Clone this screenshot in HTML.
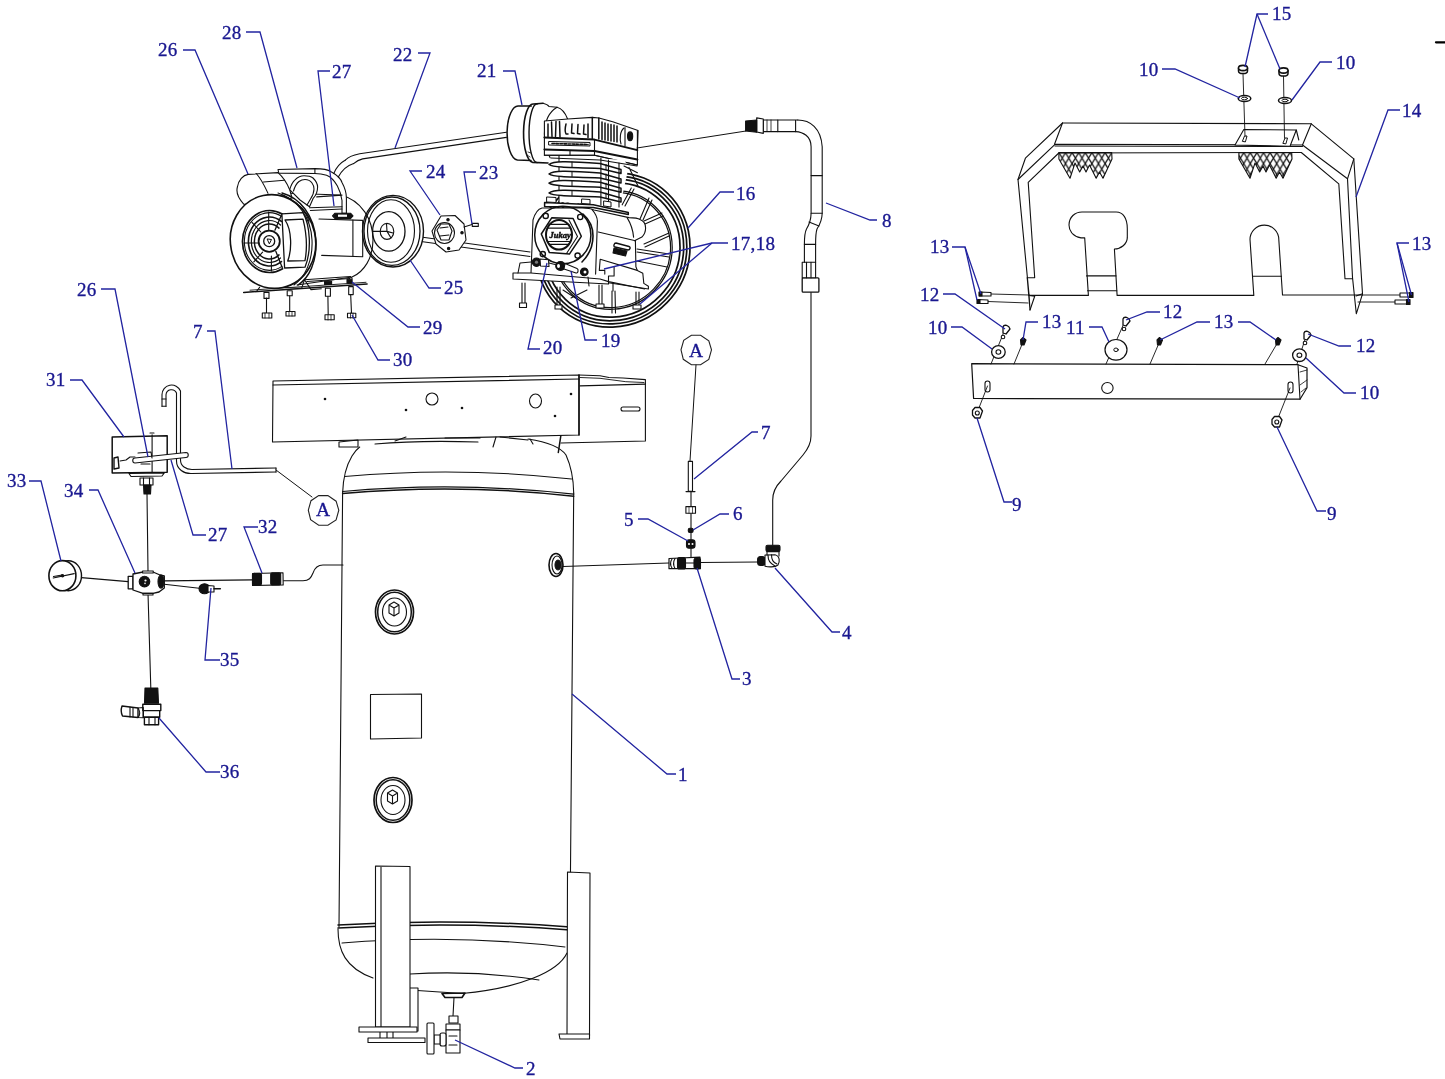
<!DOCTYPE html>
<html><head><meta charset="utf-8"><style>
html,body{margin:0;padding:0;background:#fff;width:1445px;height:1079px;overflow:hidden}
svg{display:block;will-change:transform}
.lb{font-family:"Liberation Serif",serif;font-size:19px;fill:#1a1890;stroke:#1a1890;stroke-width:0.35;letter-spacing:0.3px}
.ld{fill:none;stroke:#2224a0;stroke-width:1.3}
.k{fill:none;stroke:#111;stroke-width:1.1;stroke-linejoin:round;stroke-linecap:round}
.kw{fill:#fff;stroke:#111;stroke-width:1.1;stroke-linejoin:round}
.kt{fill:none;stroke:#222;stroke-width:0.8}
.kf{fill:#111;stroke:none}
</style></head><body>
<svg width="1445" height="1079" viewBox="0 0 1445 1079">
<g class="k">
<!-- frame platform -->
<path d="M273,381 L579,375 L579,435 L272.5,442 Z" fill="#fff"/>
<path d="M273,385 L579,379"/>
<path d="M579,375 L600,375.8 L609,377.5 L623,378 L645.4,379.6 L645.4,441 L561,443"/>
<path d="M580,385.8 L645.4,384.2" stroke-width="1.3"/>
<path d="M580,377.5 L600,378.3 L625.8,381.7 L644,382.5" stroke-width="0.9"/>
<path d="M579,375 L579,435" stroke-width="1.5"/>
<circle cx="432" cy="399" r="6" />
<ellipse cx="535.5" cy="401" rx="6" ry="7"/>
<rect x="621" y="407" width="19" height="4" rx="2"/>
</g>
<g class="kf">
<circle cx="325" cy="399" r="1.3"/><circle cx="406" cy="410" r="1.3"/><circle cx="462" cy="408" r="1.3"/><circle cx="571" cy="394" r="1.3"/><circle cx="555" cy="416" r="1.3"/>
</g>
<g class="k">
<!-- tank -->
<path d="M342.6,493 L339,927"/>
<path d="M573.7,493 L570,927"/>
<path d="M342.6,493 C343,480 346,466 352,456 C355,451 357,449 359.7,447"/>
<path d="M573.7,493 C573.5,480 571,466 566,455 C562,449 553,443 528,439"/>
<path d="M344.6,476.5 Q458,466.3 571.6,479"/>
<path d="M342.6,491.5 Q458,481.2 573.7,494.2" stroke-width="1.2"/>
<path d="M342.6,493.5 Q458,483.2 573.7,496.2" stroke-width="1.5"/>
<path d="M339,442 L358,440 L358,447 L339,447 Z"/>

<path d="M375,444 Q420,440 478,442"/><path d="M395,441 L406,437 M445,438 L480,438"/><path d="M496,437 L493,447 M500,437 L528,440 M530,439 L533,444"/><path d="M560.8,435.8 L558.3,452.5" stroke-width="1.5"/>
<!-- port -->
<ellipse cx="556" cy="565" rx="7" ry="11.5" stroke-width="1.6"/>
<ellipse cx="557" cy="565" rx="5" ry="9"/>
<ellipse cx="558" cy="565" rx="3" ry="5" fill="#111"/>
<!-- drain plugs -->
<ellipse cx="394.5" cy="612" rx="19" ry="22" stroke-width="1.7"/>
<ellipse cx="394.5" cy="612" rx="16.8" ry="19.8" stroke-width="1.5"/>
<ellipse cx="394.5" cy="612" rx="12" ry="14"/>
<path d="M389,605 L394,602 L399,605 L399,613 L394,616 L389,613 Z M389,605 L394,608 L399,605 M394,608 L394,616"/>
<ellipse cx="393" cy="800" rx="19" ry="22.5" stroke-width="1.7"/>
<ellipse cx="393" cy="800" rx="16.8" ry="20.3" stroke-width="1.5"/>
<ellipse cx="393" cy="800" rx="12" ry="14.5"/>
<path d="M387.5,793 L392.5,790 L397.5,793 L397.5,801 L392.5,804 L387.5,801 Z M387.5,793 L392.5,796 L397.5,793 M392.5,796 L392.5,804"/>
<!-- label plate -->
<path d="M370.5,694.5 L421.5,694 L421.5,738 L370.5,739 Z"/>
<!-- bottom band -->
<path d="M338,925 Q455,918 570,927" stroke-width="1.5"/>
<path d="M338,928 Q455,921 570,930" stroke-width="1.5"/>
<path d="M342,943 Q455,934 565,947"/>
<path d="M338,929 C338,950 345,968 373,978"/>
<path d="M567,953 C558,972 520,988 462,993.5 L410,990"/>
<path d="M410,974 Q475,970 539,980"/>
<path d="M442,993.5 L465,993 L462,997.5 L445,997.5 Z" fill="#fff" stroke-width="1.6"/>
<line x1="454" y1="997.5" x2="453" y2="1016"/>
</g>
<g class="kw">
<!-- legs -->
<path d="M405,988 L418,988 L418,1031 L405,1031 Z"/>
<path d="M375.5,866 L410,866.5 L410,1027 L375.5,1027 Z"/>
<path d="M381,867 L381,1027"/>
<path d="M359,1027 L417,1027 L417,1032 L359,1032 Z"/>
<path d="M368,1038 L425,1038 L425,1042.5 L368,1042.5 Z"/>
<path d="M380,1032 L380,1038 M387,1032 L387,1038 M393,1032 L393,1038"/>
<path d="M567.5,872 L590,873 L589.5,1036 L567,1036 Z"/>
<path d="M559,1034 L589.5,1034 L589.5,1039 L560,1039 Z"/>
</g>
<g class="k">
<!-- drain valve 2 -->
<rect x="449" y="1016" width="9" height="7" fill="#fff"/>
<rect x="446" y="1024" width="14" height="6" fill="#fff"/>
<rect x="446" y="1030" width="14" height="23" fill="#fff"/>
<path d="M449,1036 L457,1036 M449,1045 L457,1045"/>
<rect x="440" y="1033" width="6" height="13" rx="2" fill="#fff"/>
<rect x="434" y="1035" width="6" height="9" fill="#fff"/>
<rect x="427" y="1023" width="7" height="31" rx="1" fill="#fff"/>
</g>

<g class="k">
<g transform="translate(613,250) rotate(-46)">
<ellipse rx="78.7" ry="75.4" stroke-width="1.7" fill="#fff"/>
<ellipse rx="75.4" ry="72.3" stroke-width="1.7"/>
<ellipse rx="72.2" ry="69.2" stroke-width="1.7"/>
<ellipse rx="68.5" ry="65.6" stroke-width="1.7"/>
<ellipse rx="60.5" ry="58.0" stroke-width="1.2"/>
<ellipse rx="58.8" ry="56.4" stroke-width="1.2"/>
</g>
<!-- spokes -->
<g stroke-width="1.1">

<path d="M640,219 L649,198 M643,220 L652,200"/>
<path d="M644,221 L662,213 M645,224 L663,216"/>
<path d="M644,244 L669,233 M645,247 L669,236"/>
<path d="M637,249 L669,254 M637,252 L669,257"/>
<path d="M637,261 L667,267"/>
<path d="M612,291 L612,313 M615,291 L615.5,313"/>
<path d="M563,290 L577,299 M571,298 L587,290"/>
</g>
</g>

<g class="k">
<!-- air filter 21 -->
<path d="M518.8,106.1 L543,103.3 L557,107.2 L567.6,119 L560,160 L545,163 L517.4,160 A11,27 0 0 1 518.8,106.1 Z" fill="#fff" stroke="none"/>
<path d="M531.3,106.1 L518.8,106.1 A11,27 0 0 0 517.4,160 L531,160.5" stroke-width="1.5"/>
<path d="M543,103.3 L533.4,104 A9.5,29.2 0 0 0 532.7,162.4 L548,163" stroke-width="1.6"/>
<path d="M537.5,103.8 A8.2,29.3 0 0 0 537,162.6" stroke-width="1.4"/>
<path d="M543,103.3 C546,104 548,105 549,106.5 L557,107.2 C562,108.5 565,112 567.6,119"/>
<path d="M557,107.2 C549,112 544.5,122 544.5,134 C544.5,145 547,152 550,157.5" stroke-width="1.2"/>
<path d="M527,155 L530,157 M528,152 L531,153" stroke-width="0.8"/>
<!-- head -->
<path d="M544.4,121 L567.6,119 L592.3,117.4 L599,118 L612.7,121.8 L638.1,130.5 L637.4,150.1 L637.4,165 L594.5,155.2 L544.4,155.2 Z" fill="#fff"/>
<path d="M544.4,137.4 L594.5,139.6 L637.4,150.1" stroke-width="2"/>
<path d="M544.4,149.4 L594.5,150.9 L637.4,159.6" stroke-width="2"/>
<path d="M544.4,155.2 L594.5,155.2 L637.4,165"/>
<path d="M549,141.5 L590,142.5 L590,146 L549,145 Z" stroke-width="1"/>
<path d="M552,143.5 L588,144.5" stroke-width="1.6" stroke-dasharray="2.5,1.5"/>
<path d="M594.5,139.6 L594.5,155.2 M570,150.5 L570,155"/>
<path d="M625,127.6 L625,146 M637.4,130.5 L637.4,150"/>
<ellipse cx="630.1" cy="136.3" rx="2.6" ry="4.4" fill="#111"/>
<path d="M624,128 C620,131 619.5,139 621,144"/>
<g stroke-width="1.5">
<path d="M548,124 L548,136.5 M551.5,122 L552,136.5 M556,121.5 L555.5,136.5 M559.5,121.5 L560,137"/>
<path d="M566,124 C565,128 565,132 566,134 L568,134 M572,124 L571.5,133 L574,133.5 M578,124.5 L577.5,133.5 L580,134 M584,125 L583.5,134 L586,134.5"/>
<path d="M588,124 L588,137.5 M592.3,117.4 L592.3,138.5 M598.8,118 L598.8,139 M602,122 L602,139.5"/>
<path d="M605,123 L605,140 M608,124 L608,140.5 M611,124.5 L611,141 M614,125 L614,141.5 M617,126 L617,142"/>
</g>
<!-- cylinder fins -->
<path d="M559,156 L559,202 L620,206 L628,170 L625,160 Z" fill="#fff" stroke="none"/>
<path d="M559,156 L559,202"/>
<path d="M551,158 L600,160 L637,166" stroke-width="1.2"/>
<path d="M549,164.5 C553,161.3 565,161.0 600,163.5 L621,169.5 L621,173.5 L600,168.5 C565,167.5 553,167.3 549,164.5 Z" fill="#fff" stroke-width="1.5"/>
<path d="M572,162.0 L572,167.0 M606,164.5 L606,169.5" stroke-width="1"/>
<path d="M549,174 C553,170.8 565,170.5 600,173 L621,179 L621,183 L600,178 C565,177 553,176.8 549,174 Z" fill="#fff" stroke-width="1.5"/>
<path d="M572,171.5 L572,176.5 M606,174 L606,179" stroke-width="1"/>
<path d="M549,183.2 C553,180.0 565,179.7 600,182.2 L621,188.2 L621,192.2 L600,187.2 C565,186.2 553,186.0 549,183.2 Z" fill="#fff" stroke-width="1.5"/>
<path d="M572,180.7 L572,185.7 M606,183.2 L606,188.2" stroke-width="1"/>
<path d="M549,193 C553,189.8 565,189.5 600,192 L621,198 L621,202 L600,197 C565,196 553,195.8 549,193 Z" fill="#fff" stroke-width="1.5"/>
<path d="M572,190.5 L572,195.5 M606,193 L606,198" stroke-width="1"/>
<path d="M600.9,158 L600.9,205 M608.5,160 L608.5,206 M619,163 L619,207" stroke-width="1.1"/>
<path d="M624,166 L637.4,172.8 M629,167.5 L638,186 M631.3,188 L622.2,204.8 M634,189 L625,206"/>
<path d="M544.6,202.5 L593.3,204.8 L628.3,212.4 L628.3,214.5 L593.3,207.5 L544.6,206.5 Z" fill="#fff" stroke-width="1.5"/>
<path d="M547,197 L556,197.5 L556,202.5 L547,202 Z M582,199 L590,199.5 L590,204 L582,203.5 Z M604,201 L611,202 L611,207 L604,206 Z" fill="#fff" stroke-width="1"/>
<!-- crankcase -->
<path d="M531,273 L533,220 C535,213 538,209 542,208 L582,208 C588,208 592,209 594,210 L629,217.6 C633,217.6 638,218 640,219.5 C644,221 645.6,225 645.6,228 C645.6,233 643,236 641.9,237.1 L634.5,240.8 L635.4,240.8 L635.9,266.7 L637.3,270.4 L642.8,273.2 L643.8,283.4 L648.4,286.2 L648.4,289 L610,283 L531,276 Z" fill="#fff"/>
<path d="M591.9,209.3 C596,214 597.4,218 597.4,221.3 L595.6,274.1"/>
<path d="M627.1,217.6 C631,224 633,230 633.6,237.1"/>
<path d="M598.3,232 L635.4,240.8"/>
<path d="M600.2,259.3 L637.3,270.4 M600.2,259.3 L599.3,270.4 L604.8,270.4 L604.8,274.1"/>
<path d="M614.1,266.7 L614.1,276 L608.5,276 L608.5,281.6 L644.7,289"/>
<ellipse cx="562.8" cy="235" rx="28.1" ry="28.8" stroke-width="1.5"/>
<path d="M583,214 C590,220 593,228 593,236 C593,246 589,255 582,262" stroke-width="1.6"/>
<path d="M541.3,234 L551.7,217.8 L573.1,218.5 L581.3,236.3 L569.4,254.1 L549.4,252.6 Z" stroke-width="1.5"/>
<path d="M569,220 L577.5,236.5 L566.5,253.5" stroke-width="1.1"/>
<ellipse cx="559" cy="234.8" rx="13" ry="14.8" fill="#fff" stroke-width="2"/>
<path d="M549,224.4 L569,224.4 M547.5,228.1 L570.5,228.1 M547.5,241.5 L570.5,241.5 M549,244.4 L569,244.4" stroke-width="1.1"/>
<text x="549.5" y="237.8" style="font-family:'Liberation Serif',serif;font-size:8.5px;font-weight:bold;font-style:italic;fill:#111;stroke:#111;stroke-width:0.5">Jukay</text>
<circle cx="545.7" cy="215.9" r="2.6" stroke-width="1.4"/><circle cx="580.2" cy="217" r="2.6" stroke-width="1.4"/><circle cx="542.8" cy="254.1" r="2.6" stroke-width="1.4"/><circle cx="577.6" cy="255.6" r="2.6" stroke-width="1.4"/>
<!-- oil plug -->
<path d="M616,243 L629,246.5 C631,247 630,250 628,250 L615,247 C613,246.5 614,243 616,243 Z" fill="#fff" stroke-width="1.4"/>
<path d="M614,248 L627,251 L625.5,256 L613,253 Z" fill="#111"/>
<!-- base plate -->
<path d="M513,273 L531,273 L600,279 L608.5,281.6 L608.5,284 L513,279 Z" fill="#fff"/>
<path d="M518,273 L520,263 L531,262"/>
<!-- fittings 19, 20 -->
<circle cx="536.5" cy="262.2" r="4.2" fill="#111"/>
<circle cx="536.5" cy="262.2" r="1.6" fill="#777" stroke="none"/>
<path d="M540,259 L548.5,259.8 L549,266.5 L540.5,266 Z" fill="#fff"/>
<path d="M549,263 L557,265"/>
<ellipse cx="560.5" cy="266" rx="4.8" ry="4.5" fill="#111"/>
<ellipse cx="558.5" cy="266" rx="1.5" ry="2" fill="#fff" stroke="none"/>
<path d="M565,263.5 L577,268.5 C579,269.5 578,273.5 576,273 L564,269 Z" fill="#fff"/>
<circle cx="584.3" cy="271.9" r="3.8" fill="#111"/>
<circle cx="585" cy="272" r="1.5" fill="#fff" stroke="none"/>
<!-- bolts -->
<path d="M522,283 L522,303 M525,283 L525,303"/>
<rect x="519.5" y="303" width="7" height="4.5" fill="#fff"/>
<path d="M557,287 L557,305 M560,287 L560,305"/>
<rect x="555" y="305" width="7" height="4" fill="#fff"/>
<path d="M599,285 L599,304 M602,285 L602,304"/>
<rect x="596" y="304" width="8" height="4" fill="#fff"/>
<path d="M636,292 L636,305 M639,292 L639,305"/>
<rect x="633" y="305" width="8" height="4" fill="#fff"/>
<path d="M588,277 L589,286 M613,283 L613,291"/>
<!-- belt lower -->
<path d="M421,237 L530,252 M421,241.5 L530,256.5"/>
<!-- hose line to fitting -->
<path d="M637,148 L746,131" stroke-width="1"/>
</g>

<g class="k">
<!-- bushing 24 -->
<path d="M441,216 L455,215.5 L464,224 L466,240 L459,250 L446,252 L436,244 L432,231 Z" fill="#fff"/>
<ellipse cx="444.5" cy="233" rx="10" ry="10.5"/>
<path d="M437,230 L441,224 L449,224 L452,231 L449,240 L441,240 Z" />
<path d="M440,228 L448,227 M440,236 L449,235"/>
<circle cx="448" cy="219.7" r="1.2" fill="#111"/><circle cx="462" cy="232.8" r="1.2" fill="#111"/><circle cx="448.6" cy="248.6" r="1.2" fill="#111"/>
<path d="M464,227 L472,224.5"/>
<rect x="472.3" y="223.4" width="6" height="3" fill="#fff"/>
<!-- pulley 25 -->
<ellipse cx="393" cy="231.2" rx="30.5" ry="35.8" fill="#fff" stroke-width="1.4"/>
<ellipse cx="392" cy="231.2" rx="28" ry="34.2" stroke-width="1.3"/>
<ellipse cx="391" cy="231" rx="23.5" ry="31.3"/>
<ellipse cx="388.8" cy="231.4" rx="16.2" ry="19.8" stroke-width="1.3"/>
<ellipse cx="387" cy="231.4" rx="6.8" ry="8"/>
<path d="M373,231.4 L387,231.4 L393,233 M387,231.4 L386.5,223.5 M387,231.4 L391,238"/>
<!-- motor back body -->
<path d="M282,193 L340,195 C362,200 373,220 373,240 C373,258 364,272 352,277 L297,285"/>
<!-- cord / belt 22 -->
<path d="M506.4,132.2 L359.7,153.7 C353,155 348,157 345.5,160"/>
<path d="M506.4,137.4 L362.6,158.9 C358,160 355.5,162 353.6,163.6"/>
<!-- capacitor humps -->
<path d="M243.7,204.1 C238,198 236,192 237.4,187 C238.5,180 243,175 248.2,174.4 L278,172.6 C283,177 287,183 289.7,189.7 L292,198 L258,206 Z" fill="#fff"/>
<path d="M256.3,173.5 C262,180 265,187 268,193.3"/>
<path d="M263.5,182 L284.3,180.3"/>
<path d="M278,169.5 L314.9,168.6 C322,168.6 328,169.5 331.1,171.7 C337,175 341,179 342,182.5 C345,188 346.4,193 346.4,198 L346.4,213.2 L342,213.2 L342,200.5 C341,194 339.5,190 337.4,186.1 C334,180 330,176.5 326.6,175.3 C322,173.8 318,173.5 314.9,173.5 L278.8,173.1 Z" fill="#fff"/>
<path d="M314.9,168.6 L314.9,173.5"/>
<path d="M289.7,189.7 C291,185 292.5,182 295,179.8 C298,177 301,175.8 304,175.8 C308,175.8 311,176.5 313,178 C316,181 317.6,184 317.6,187 C317.6,192 315.5,196 313,198.7 L309.5,206.8 L300,200 Z" fill="#fff"/>
<path d="M293.5,191 C295,186 297,183 299,181.5 C301,180 303,179.5 305,179.5 C308,179.5 310.5,181 312,183 C313.5,185 314,187 314,189 C314,193 312.5,196 310.5,199 L307,205" />
<path d="M316.7,196.9 L342,195.1 M309.5,207.7 L342,206.8 M310.4,210.5 L342,209"/>
<path d="M333.8,173.5 C336,168 340,163 345.5,160 M338.3,177.1 C341,172 346,166 353.6,163.6"/>
<!-- front end bell -->
<g transform="translate(273,241.5) rotate(-12)">
<ellipse rx="42.5" ry="47" fill="#fff" stroke-width="1.6"/>
</g>
<path d="M282,193 C300,198 314,215 316,240 C317,262 309,278 298,285" stroke-width="1.4"/>
<path d="M278,193 C297,199 311,217 312,240 C313,261 305,277 294,285"/>
<path d="M282,195 C296,200 307,212 309,222"/>
<!-- grille -->
<path d="M282.1,214.1 A27,31 0 1 0 282.1,268.9" stroke-width="1.7"/>
<path d="M281.9,216.6 A25,28.8 0 1 0 281.9,266.4" stroke-width="1.1"/>
<path d="M281.4,221.4 A21,24.5 0 1 0 281.4,261.6" stroke-width="1.6"/>
<path d="M280.5,225.0 A18,21 0 1 0 280.5,258.0" stroke-width="1.2"/>
<path d="M279.0,228.1 A15,17.5 0 1 0 279.0,254.9" stroke-width="1.5"/>
<path d="M274.9,230.2 L281.9,213.9 M275.8,251.3 L282.8,268.9" stroke-width="1.3"/>
<path d="M268.7,212 L268.7,230 M244,243 L259,243 M252,222.3 L260.8,232 M253.8,261.9 L262.6,252.2 M271.4,256 L271.4,271" stroke-width="1.1"/>
<circle cx="269.2" cy="241.2" r="10.6" fill="#fff" stroke-width="1.8"/>
<circle cx="269.2" cy="241.2" r="5.5" stroke-width="1.3"/>
<path d="M267.5,239 L271.5,239.5 L269.5,243.5 Z" stroke-width="1"/>
<!-- cover plate -->
<path d="M281.9,213.9 L303,212.6 C310,225 312,250 305,267.2 L284.6,268 Z" fill="#fff" stroke-width="1.3"/>
<path d="M285,220 L303,219.2 C307,235 307,250 305,260.6 L287.7,261 C292,250 292,230 285,220 Z" stroke-width="1.3"/>
<!-- junction box -->
<path d="M319,219 L362.7,220.4 L362.7,256.7 L321.7,255.4"/>
<path d="M352.9,220 L352.9,256"/>
<!-- nut 27 -->
<path d="M335,213.2 L350.5,213.2 L353,215.9 L350.5,218.6 L335,218.6 L332.5,215.9 Z" fill="#111"/>
<rect x="338" y="214.6" width="9" height="2.2" fill="#fff" stroke="none"/>
<!-- base -->
<path d="M243.7,292.4 L367.1,284" stroke-width="1.5"/>
<path d="M250,290.2 L366,282.3" stroke-width="0.9"/>
<path d="M256.8,291 L259.6,287.3 M284,287.5 L301.7,288.2 L304.5,279.8 L350.3,276.5 L352.1,278.4 M304.5,279.8 L311,289.6 L321.3,288.7 M307,281.5 L350,278.5" />
<!-- bolts -->
<g fill="#fff">
<rect x="264" y="292.4" width="5" height="6"/><rect x="287.2" y="290.7" width="5" height="5"/><rect x="325.4" y="288.2" width="5" height="8"/><rect x="348.7" y="286.6" width="4.5" height="8"/>
<rect x="324.6" y="281.2" width="7" height="3.3" fill="#111"/><rect x="347" y="279.3" width="5.1" height="3.8" fill="#111"/>
</g>
<path d="M266.5,298 L266.5,313 M289.7,296 L289.7,311.5 M327.9,296.5 L328.2,314.8 M350.7,295 L351.5,313.2"/>
<g fill="#fff">
<rect x="262.3" y="313" width="9.5" height="5"/><rect x="286" y="311.5" width="9" height="4.5"/><rect x="325" y="314.8" width="9.2" height="5"/><rect x="347.5" y="313.2" width="8.3" height="4.6"/>
</g>
<path d="M265,313 L265,318 M269,313 L269,318 M289,311.5 L289,316 M292,311.5 L292,316 M328,315 L328,320 M331,315 L331,320 M350.5,313 L350.5,318 M353,313 L353,318" stroke-width="0.8"/>
</g>

<g class="k">
<!-- lines -->
<path d="M147,494 L148,571 M148,593 L150.8,688" stroke-width="1.1"/>
<path d="M81.4,577.6 L128.2,581.6" stroke-width="1.1"/>
<path d="M164.3,580.9 L252.5,579.9" stroke-width="1.1"/>
<path d="M164.3,584.2 L199.2,588.2" stroke-width="1.1"/>
<path d="M283.2,580.7 L303,580.7 C309,580.7 311,578 313,573 C315,567 318,565 323,565 L343,565" stroke-width="1.1"/>
<!-- J tube 7 -->
<path d="M162,406.3 L162,394.7 A9.6,9.6 0 0 1 180.5,391 L180.5,460 C180.5,466 186,469.5 192,469.5 L276,468" fill="none"/>
<path d="M166,406.3 L166,394.7 A5.5,5.5 0 0 1 176.5,393 L176.5,461 C176.5,469 184,474 192,473.5 L276,472"/>
<path d="M162,406.3 L166,406.3 M276,468 L276,472 M162,399 L166,399"/>
<path d="M276,470 L312,497" stroke-width="1"/>
<!-- pressure switch 31 -->
<path d="M112.2,437 L167.2,435.8 L167.2,472.3 L112.2,472.9 Z" fill="#fff" stroke-width="1.5"/>
<path d="M152.1,434.7 L152.1,472.3 M150,433 L154,433"/>
<path d="M135,458 L186,452.5 C189,452.5 189,457.5 186,457.5 L135,463 C132,463 132,458 135,458 Z" fill="#fff"/>
<path d="M120,461 L126,460 L130,457 L135,457" />
<path d="M138,453 L151,452 L152,458 M141,464 L150,464"/>
<path d="M114,458 L118,457 L119,468 L114,469 Z" fill="#fff" stroke-width="1.4"/>
<path d="M129,473.5 L164.3,473 L162,476 L131,476.5 Z" fill="#fff"/>
<rect x="140" y="478" width="13" height="7" fill="#fff"/>
<path d="M143.5,478 L143.5,485 M149.5,478 L149.5,485"/>
<path d="M143.5,485 L151,485 L150.5,494 L144,494 Z" fill="#111"/>
<!-- gauge 33 -->
<ellipse cx="68.3" cy="575.7" rx="13.2" ry="15" fill="#fff" stroke-width="1.4"/>
<ellipse cx="62.4" cy="575.7" rx="13.5" ry="15.1" fill="#fff" stroke-width="1.6"/>
<path d="M53.2,578 L74.2,573.7 M53.5,576.5 L62,575" stroke-width="1.2"/>
<circle cx="62.5" cy="575.8" r="1.2" fill="#111"/>
<!-- manifold 34 -->
<path d="M128.2,576.3 L133,576.3 L133,588.8 L128.2,588.8 Z" fill="#fff" stroke-width="1.3"/>
<path d="M133,574 L143,572 L153,572 L160,575 L164.3,576 L164.3,588 L159,592 L153,593.4 L143,593.4 L133,590 Z" fill="#fff" stroke-width="1.3"/>
<path d="M142.6,571 L153.2,571 L153.2,573 L142.6,573 Z M143,593.4 L153,593.4 L153,595 L143,595 Z" fill="#fff"/>
<circle cx="144.5" cy="581.6" r="5.3" fill="#111"/>
<circle cx="145.5" cy="580.5" r="1.1" fill="#fff" stroke="none"/><circle cx="145" cy="583.3" r="0.9" fill="#ddd" stroke="none"/>
<ellipse cx="161" cy="581.6" rx="3" ry="6.5" fill="#111"/>
<!-- check valve 35 -->
<ellipse cx="204.5" cy="588.8" rx="5.5" ry="5" fill="#111"/>
<path d="M208,585.5 L214,586 L214,592 L208,592 Z" fill="#fff"/>
<path d="M214,588.8 L220.3,588.8" stroke-width="1.6"/>
<!-- nipple 32 -->
<path d="M252.5,573.5 L283,572.8 L283.2,584.9 L252.5,585.5 Z" fill="#fff"/>
<rect x="252.5" y="573.3" width="9" height="12" rx="2" fill="#111"/>
<rect x="270.7" y="572.9" width="10" height="12" rx="1.5" fill="#111"/>
<!-- safety valve 36 -->
<path d="M145,688 L157.8,688 L158.5,703.3 L144.5,703.3 Z" fill="#111"/>
<rect x="142.8" y="704.2" width="18" height="6.4" fill="#fff" stroke-width="1.4"/>
<rect x="143.3" y="710.6" width="16.4" height="6.6" fill="#fff" stroke-width="1.4"/>
<rect x="144.4" y="717.2" width="14.2" height="7.5" fill="#fff" stroke-width="1.4"/>
<path d="M149,717.2 L149,724.7 M155,717.2 L155,724.7"/>
<path d="M122,706 L138,708 L138,717.5 L122.5,716 C121,713 121,709 122,706 Z" fill="#fff" stroke-width="1.4"/>
<path d="M130,707 L130,717 M133,707.5 L133,717 M138,708 C140,711 140,715 138,717.5 L143.3,717.8 L143.3,707.5 Z" />
</g>

<g class="k">
<!-- hose 8 -->
<path d="M696,365 L690,461" stroke-width="1"/>
<rect x="688.3" y="461.4" width="4.2" height="30" fill="#fff"/>
<path d="M686,491.6 L695,491.6 M691,491.6 L691,506.6 M691,513.3 L691,528 M691,532.5 L691,540 M691,548 L691,557"/>
<rect x="685.9" y="506.6" width="9.6" height="6.7" fill="#fff"/>
<path d="M689,506.6 L689,513.3 M692.5,506.6 L692.5,513.3" stroke-width="0.7"/>
<rect x="688.3" y="528.3" width="4.8" height="4.2" rx="1.5" fill="#111"/>
<rect x="686.5" y="539.8" width="8.5" height="8.4" rx="2.5" fill="#111"/>
<circle cx="689" cy="544" r="1" fill="#fff" stroke="none"/><circle cx="692.5" cy="544" r="1" fill="#fff" stroke="none"/>
<!-- line tank port to tee -->
<path d="M563,566.5 L669,563" stroke-width="1.1"/>
<path d="M700.4,562.5 L757.6,562" stroke-width="1.1"/>
<!-- tee 3 -->
<path d="M669,558.5 L700,557.2 L700.4,568.7 L669,568.7 Z" fill="#fff" stroke-width="1.2"/>
<path d="M672,559 C670,562 670,565 672,568 M675,558.5 C673,562 673,565 675,568.5" />
<rect x="677.5" y="557.5" width="8" height="11.5" rx="2" fill="#111"/>
<path d="M685,563 L694,563"/>
<rect x="694" y="558" width="6.5" height="11" rx="2.5" fill="#111"/>
<!-- elbow 4 -->
<rect x="757.6" y="556.5" width="7.5" height="9" rx="3" fill="#111"/>
<path d="M765,555 L775,554.8 C780,556 780,562 778,565 C775,567.5 768,567 765,566.3 Z" fill="#fff"/>
<path d="M768,555 C768,561 770,563 775,566 M771.5,554.8 C771.5,560 773,562 777,564"/>
<rect x="766" y="545.2" width="14" height="6.4" rx="1.5" fill="#111"/>
<path d="M767,551.5 L767,555 M779,551.5 L779,556"/>
<!-- hose -->
<path d="M772.7,545 L772.7,500 C772.7,492 776,486 781,481 L803,455 C808,449 811,443 811,436 L811,292" stroke-width="1.1"/>
<!-- upper hose 8 -->
<rect x="802.2" y="277.8" width="16.7" height="14.4" rx="1" fill="#fff" stroke-width="1.3"/>
<path d="M802.2,262.2 L815.6,262.2 L815.6,277.8 L802.2,277.8 Z" fill="#fff"/>
<path d="M806.5,262.2 L806.5,277.8 M811,262.2 L811,277.8"/>
<path d="M797.8,120 C810,120 821,128 822.2,146.7 L822.2,213.3 C822,221 819,226 817,229 C816,232 815.6,235 815.6,244 L815.6,262.2"/>
<path d="M795.6,131.6 C803,132 811,136 811.1,146.7 L811.1,213.3 C811,219 809,225 806.5,229 C805,232 804.4,236 804.4,244 L804.4,262.2"/>
<path d="M777.8,120 L797.8,120 M777.8,131.6 L795.6,131.6 M795.6,120 L795.6,131.6"/>
<path d="M811.1,175.6 L822.2,175.6 M811.1,213.3 L822.2,213.3 M809,222 L819,226 M804.4,244.4 L815.6,244.4"/>
<path d="M763.3,120 L777.8,120 L777.8,131.6 L763.3,131.6 Z" fill="#fff"/>
<path d="M767,120 L767,131.6 M771,120 L771,131.6" stroke-width="0.8"/>
<path d="M756.7,117.8 L763.3,119 L763.3,133.3 L756.7,132 Z" fill="#fff" stroke-width="1.2"/>
<path d="M745.6,121 L756.7,120 L756.7,132.2 L745.6,131 Z" fill="#111"/>
</g>

<defs>
<pattern id="mesh" x="1058.9" y="152.6" width="6.6" height="11" patternUnits="userSpaceOnUse">
<path d="M-3.3,-5.5 L9.9,16.5 M9.9,-5.5 L-3.3,16.5 M-6.6,5.5 L3.3,22 M3.3,-11 L-6.6,5.5 M3.3,-11 L13.2,5.5 M13.2,5.5 L3.3,22" stroke="#111" stroke-width="1.25" fill="none"/>
</pattern>
</defs>
<g class="k">
<!-- guard outer -->
<path d="M1062.5,123 L1311.3,123.8 L1353.8,158.8 L1362.5,293.8 L1356.3,313.8 L1352.5,277.5 L1347.5,178.8 L1302.5,145 L1055,144.3 L1018,179.5 L1029.1,295.4 L1030,310 L1027.2,277.7"/>
<path d="M1062.5,123 L1025.4,158.2 L1018,179.5"/>
<path d="M1311.3,123.8 L1302.5,145 M1353.8,158.8 L1347.5,178.8 M1062.5,123 L1054.5,144.3"/>
<path d="M1055,146 L1302.5,146.5"/>
<path d="M1058.8,153 L1301.3,152.5 L1338.8,183.8 L1345,278.8 L1352.5,278.8"/>
<path d="M1058.8,153 L1028.2,182.3 L1034.7,277.7 L1027.2,277.7"/>
<!-- bottom edges -->
<path d="M1029.1,295.4 L1088.4,295.4 L1084.7,237.9 L1081,237.9 C1072,236 1069,230 1069,225 C1069,217 1075,212 1082,212 L1116.2,212 C1123,212 1127.3,218 1127.3,228.6 L1127.3,237.9 C1127,244 1121,249 1114.4,249 L1117.1,295.4 L1253.8,295.4 L1250,239.5 A14.4,14.4 0 0 1 1278.8,239.5 L1282.5,295 L1362.5,295"/>
<path d="M1086.5,275.9 L1116,275.9 M1087.5,290.7 L1116.8,290.7"/>
<path d="M1252.5,276.3 L1281.5,276.3"/>
<path d="M1029.1,295.4 L1034.7,296.3 L1030,310 M1356,296 L1362.5,293.8"/>
<!-- mesh -->
<path d="M1058.9,152.6 L1111.7,152.6 L1112.0,159.0 L1103.0,178.3 L1099.5,172.0 L1096.2,178.3 L1089.5,165.0 L1086.0,172.0 L1083.0,166.0 L1079.7,172.0 L1075.0,163.0 L1070.0,178.3 L1058.9,159.0 Z" fill="url(#mesh)" stroke="#111" stroke-width="1.1"/>
<path d="M1238.9,152.6 L1291.7,152.6 L1292.0,159.0 L1283.0,178.3 L1279.5,172.0 L1276.2,178.3 L1269.5,165.0 L1266.0,172.0 L1263.0,166.0 L1259.7,172.0 L1255.0,163.0 L1250.0,178.3 L1238.9,159.0 Z" fill="url(#mesh)" stroke="#111" stroke-width="1.1"/>
<!-- bracket -->
<path d="M1235,145 L1243.8,129.5 L1296.3,130 L1290,146.3 Z" fill="#fff"/>
<path d="M1296.3,130 L1298.8,140"/>
<path d="M1242.5,141 L1244.5,136 L1247,136 L1245.5,141.5 Z M1283,143 L1285,138 L1287.5,138 L1286,143.5 Z" stroke-width="1"/>
<path d="M1243,73.5 L1245,136 M1283.5,76 L1284.5,138" stroke-width="0.9"/>
<path d="M1238.5,68 L1238.5,71 A4.5,2.6 0 0 0 1247.5,71 L1247.5,68" fill="#fff" stroke-width="1.5"/><ellipse cx="1243" cy="68" rx="4.5" ry="2.6" fill="#fff" stroke-width="1.6"/>
<path d="M1279,70.5 L1279,73.5 A4.5,2.6 0 0 0 1288,73.5 L1288,70.5" fill="#fff" stroke-width="1.5"/><ellipse cx="1283.5" cy="70.5" rx="4.5" ry="2.6" fill="#fff" stroke-width="1.6"/>
<ellipse cx="1244.5" cy="98.5" rx="6.3" ry="3" fill="#fff" stroke-width="1.5"/>
<ellipse cx="1244.5" cy="98.5" rx="3" ry="1.3" stroke-width="1"/>
<ellipse cx="1285" cy="100.5" rx="6.5" ry="3" fill="#fff" stroke-width="1.5"/>
<ellipse cx="1285" cy="100.5" rx="3" ry="1.3" stroke-width="1"/>
<!-- rods 13 -->
<path d="M991,294 L1029,295 M988,301.5 L1028,303" stroke-width="0.9"/>
<path d="M979.5,292 L991,292.5 L991,296 L979.5,296 Z M977.5,299.5 L988,300 L988,303.5 L977.5,303.5 Z" fill="#fff" stroke-width="1.1"/>
<path d="M979,292 L982,292 L982,296 L979,296 Z M977,299.5 L980,299.5 L980,303.5 L977,303.5 Z" fill="#111"/>
<path d="M1362.5,295 L1400,295 M1358,302 L1395,302" stroke-width="0.9"/>
<path d="M1400,293 L1412.5,293 L1412.5,297 L1400,297 Z M1395,300 L1409.5,300 L1409.5,304 L1395,304 Z" fill="#fff" stroke-width="1.1"/>
<path d="M1409.5,292.5 L1413,292.5 L1413,297.5 L1409.5,297.5 Z M1406.5,299.5 L1410,299.5 L1410,304.5 L1406.5,304.5 Z" fill="#111"/>
<!-- lower bracket -->
<path d="M971.7,363.7 L1298,364.7 L1307,368 L1307,387.8 L1300,399.2 L973.6,398.5 Z" fill="#fff" stroke-width="1.2"/>
<path d="M1298,364.7 L1300,399.2"/>
<path d="M1300,372 L1307,370 M1300,385 L1307,380 M1301,392 L1306,388" stroke-width="0.8"/>
<ellipse cx="1107.4" cy="388" rx="5.7" ry="5.5"/>
<rect x="985" y="381" width="5" height="11" rx="2.5"/>
<rect x="1288" y="382" width="5" height="11" rx="2.5"/>
<!-- fasteners -->
<path d="M977,413 L987.5,386 M1276.5,422 L1290,388" stroke-width="0.9"/>
<path d="M972.5,410.5 L975,407.5 L980,407.5 L982.5,411 L980,418 L975,418 L972.5,415 Z" fill="#fff" stroke-width="1.3"/>
<circle cx="977.3" cy="413" r="2" />
<path d="M1272,419.5 L1274.5,416.5 L1279.5,416.5 L1282,420 L1279.5,427 L1274.5,427 L1272,424 Z" fill="#fff" stroke-width="1.3"/>
<circle cx="1276.8" cy="422" r="2"/>
<path d="M991,364 L1003.5,333 M1014,364 L1023,342 M1106,364 L1125,321 M1150,364 L1159.5,342 M1265,364 L1278,342 M1297,364 L1306,336.5" stroke-width="0.9"/>
<ellipse cx="998.4" cy="352" rx="6.8" ry="6.3" fill="#fff" stroke-width="1.3"/>
<ellipse cx="998.4" cy="352" rx="2.4" ry="2.2"/>
<ellipse cx="1299.4" cy="355.2" rx="6.8" ry="6.3" fill="#fff" stroke-width="1.3"/>
<ellipse cx="1299.4" cy="355.2" rx="2.4" ry="2.2"/>
<ellipse cx="1116" cy="349.8" rx="11" ry="10.3" fill="#fff" stroke-width="1.2"/>
<ellipse cx="1116" cy="349.8" rx="2.2" ry="1.8" stroke-width="1"/>
<path d="M1003,327 C1004,324 1009,325 1010,329 L1006,334 L1003,333 Z" fill="#fff" stroke-width="1.3"/>
<path d="M1123,319 C1124,316 1129,317 1130,321 L1126,326 L1123,325 Z" fill="#fff" stroke-width="1.3"/>
<path d="M1304,333 C1305,330 1310,331 1311,335 L1307,340 L1304,339 Z" fill="#fff" stroke-width="1.3"/>
<circle cx="1003" cy="337" r="1.8" fill="#fff"/><circle cx="1124" cy="329" r="1.8" fill="#fff"/><circle cx="1305" cy="343" r="1.8" fill="#fff"/>
<path d="M1020.5,340 L1023,337.5 L1026,340 L1024,345 L1021,345 Z" fill="#111"/>
<path d="M1157,340 L1159.5,337.5 L1162.5,340 L1160.5,345 L1157.5,345 Z" fill="#111"/>
<path d="M1275.5,340 L1278,337.5 L1281,340 L1279,345 L1276,345 Z" fill="#111"/>
</g>

<g class="lb">
<text x="158" y="56">26</text>
<text x="222" y="39">28</text>
<text x="332" y="78">27</text>
<text x="393" y="61">22</text>
<text x="477" y="77">21</text>
<text x="426" y="178">24</text>
<text x="479" y="179">23</text>
<text x="444" y="294">25</text>
<text x="423" y="334">29</text>
<text x="393" y="366">30</text>
<text x="736" y="200">16</text>
<text x="731" y="250">17,18</text>
<text x="543" y="354">20</text>
<text x="601" y="347">19</text>
<text x="882" y="227">8</text>
<text x="77" y="296">26</text>
<text x="46" y="386">31</text>
<text x="193" y="338">7</text>
<text x="208" y="541">27</text>
<text x="258" y="533">32</text>
<text x="7" y="487">33</text>
<text x="64" y="497">34</text>
<text x="220" y="666">35</text>
<text x="220" y="778">36</text>
<text x="761" y="439">7</text>
<text x="624" y="526">5</text>
<text x="733" y="520">6</text>
<text x="742" y="685">3</text>
<text x="842" y="639">4</text>
<text x="678" y="781">1</text>
<text x="526" y="1075">2</text>
<text x="1272" y="20">15</text>
<text x="1139" y="76">10</text>
<text x="1336" y="69">10</text>
<text x="1402" y="117">14</text>
<text x="1412" y="250">13</text>
<text x="930" y="253">13</text>
<text x="920" y="301">12</text>
<text x="928" y="334">10</text>
<text x="1042" y="328">13</text>
<text x="1066" y="334">11</text>
<text x="1163" y="318">12</text>
<text x="1214" y="328">13</text>
<text x="1356" y="352">12</text>
<text x="1360" y="399">10</text>
<text x="1012" y="511">9</text>
<text x="1327" y="520">9</text>
<text x="316" y="515.6" style="font-size:19.5px;letter-spacing:0">A</text>
<text x="689" y="356.8" style="font-size:19.5px;letter-spacing:0">A</text>
</g>
<g class="ld">
<polyline points="183,50 195,50 248,174"/>
<polyline points="246,32 260,32 297,168"/>
<polyline points="330,71 318,71 334,206"/>
<polyline points="418,53 430,53 395,148"/>
<polyline points="503,71 515,71 522,105"/>
<polyline points="422,171 410,171 440,215"/>
<polyline points="476,172 464,172 472,224"/>
<polyline points="441,288 429,288 410,260"/>
<polyline points="420,327 408,327 352,282"/>
<polyline points="390,360 378,360 352,315"/>
<polyline points="734,192 720,192 688,228"/>
<polyline points="728,243 712,243 604,269"/>
<polyline points="712,243 640,304"/>
<polyline points="540,349 528,349 547,263"/>
<polyline points="597,340 585,340 571,271"/>
<polyline points="877,220 870,220 826,203"/>
<polyline points="101,289 115,289 148,457"/>
<polyline points="70,380 82,380 124,437"/>
<polyline points="207,331 215,331 232,469"/>
<polyline points="206,535 193,535 171,460"/>
<polyline points="258,527 244,527 262,573"/>
<polyline points="29,481 41,481 61,561"/>
<polyline points="89,490 98,490 135,573"/>
<polyline points="220,660 205,660 211,588"/>
<polyline points="220,772 206,772 159,718"/>
<polyline points="758,432 752,432 694,479"/>
<polyline points="638,519 648,519 688,541"/>
<polyline points="729,514 720,514 693,530"/>
<polyline points="740,679 732,679 697,568"/>
<polyline points="840,632 832,632 775,568"/>
<polyline points="676,774 667,774 572,694"/>
<polyline points="523,1068 515,1068 455,1040"/>
<polyline points="1268,14 1257,14 1245,67"/>
<polyline points="1257,14 1280,69"/>
<polyline points="1162,69 1175,69 1240,98"/>
<polyline points="1332,62 1320,62 1292,100"/>
<polyline points="1400,110 1388,110 1356,197"/>
<polyline points="1409,243 1397,243 1411.5,295"/>
<polyline points="1397,243 1409,302"/>
<polyline points="952,247 965,247 981,294"/>
<polyline points="965,247 977,300"/>
<polyline points="943,294 955,294 1005,329"/>
<polyline points="951,327 962,327 992,349"/>
<polyline points="1038,322 1026,322 1023,340"/>
<polyline points="1089,327 1102,327 1109,342"/>
<polyline points="1160,312 1147,312 1126,320"/>
<polyline points="1210,322 1197,322 1160,340"/>
<polyline points="1238,322 1250,322 1276,340"/>
<polyline points="1351,346 1339,346 1308,334"/>
<polyline points="1356,393 1344,393 1306,358"/>
<polyline points="1012,502 1004,502 977,418"/>
<polyline points="1326,511 1317,511 1277,427"/>
</g>
<polygon class="kt" points="318.7,495.6 327.9,495.6 336.1,501.2 338.8,510.2 336.1,519.9 327.9,525.2 318.7,525.2 310.6,519.7 308.3,510.2 311.0,500.7" style="stroke:#222;stroke-width:1.1"/>
<polygon class="kt" points="691.4,335.2 700.6,335.2 708.8,340.8 711.5,349.8 708.8,359.5 700.6,364.8 691.4,364.8 683.3,359.3 681.0,349.8 683.7,340.3" style="stroke:#222;stroke-width:1.1"/>
<line x1="1436" y1="42.3" x2="1446" y2="42.3" stroke="#000" stroke-width="2.3" stroke-linecap="round"/>

</svg>
</body></html>
